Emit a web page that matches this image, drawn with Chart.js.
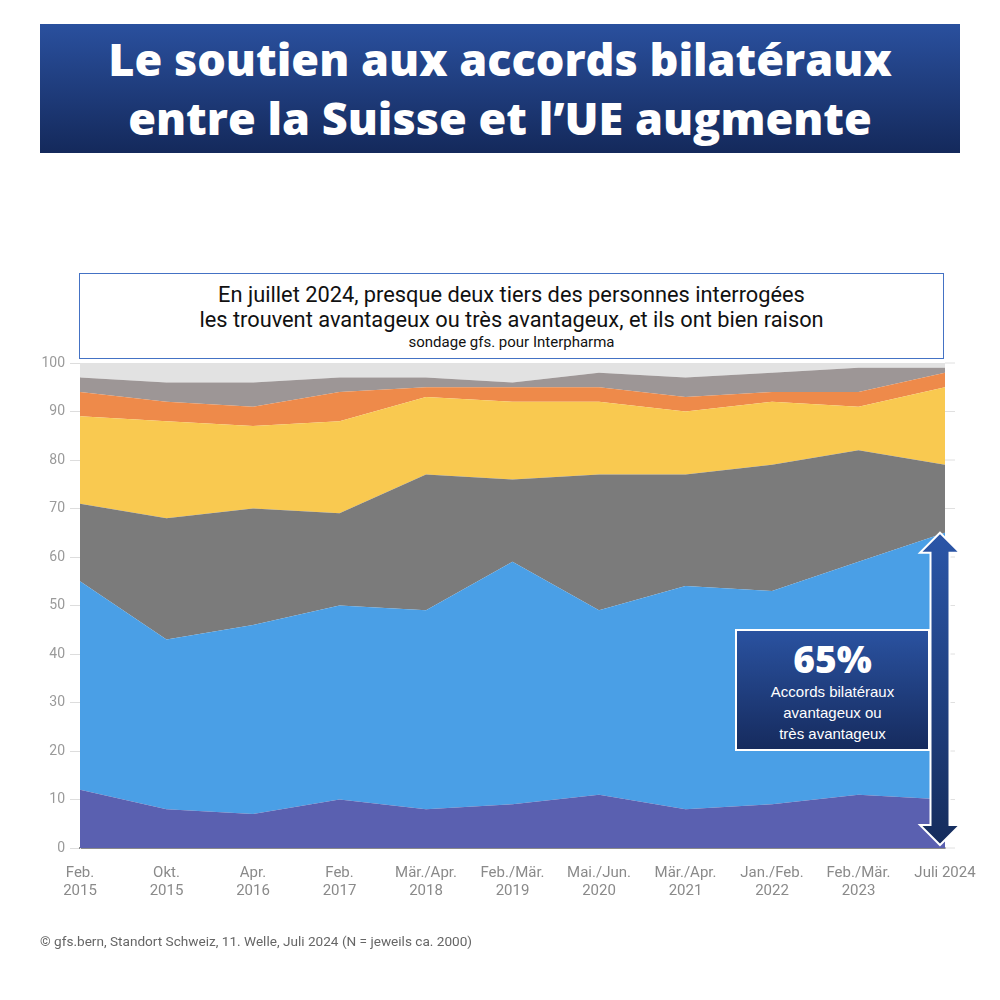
<!DOCTYPE html>
<html>
<head>
<meta charset="utf-8">
<script src="https://cdn.jsdelivr.net/npm/chart.js@4.4.1/dist/chart.umd.min.js"></script>
<style>
  html, body { margin:0; padding:0; background:#fff; }
  body { width:1000px; height:1000px; position:relative; overflow:hidden; }
  #c { position:absolute; left:0; top:0; }
  #banner { position:absolute; left:40px; top:24px; width:920px; height:129px;
    background:linear-gradient(#2a509e, #14295b); color:#fff; text-align:center;
    font-family:"Open Sans", sans-serif; font-weight:800; font-size:45px; line-height:59px;
    box-sizing:border-box; padding-top:5px; }
  #sub { position:absolute; left:79px; top:273px; width:865px; height:86px; box-sizing:border-box;
    border:1px solid #4472c4; background:#fff; text-align:center; color:#111;
    font-family:"Liberation Sans Narrow", "Roboto", sans-serif; }
  #sub .l { font-size:21.8px; line-height:25px; }
  #sub .s { font-size:15px; line-height:20px; }
  #box { position:absolute; left:735px; top:629px; width:195px; height:122px; box-sizing:border-box;
    border:2px solid #fff; background:linear-gradient(#2a52a0, #162b5e); color:#fff; text-align:center;
    font-family:"Liberation Sans", Arial, sans-serif; }
  #box .big { font-family:"Open Sans", sans-serif; font-weight:800; font-size:37px; line-height:44px; margin-top:6px; }
  #box .t { font-size:15px; line-height:21px; }
  #foot { position:absolute; left:40px; top:933px; font-family:"Roboto", sans-serif; font-size:13.6px; color:#666; }
</style>
</head>
<body>
<canvas id="c" width="1000" height="1000"></canvas>
<div id="banner">Le soutien aux accords bilatéraux<br>entre la Suisse et l’UE augmente</div>
<div id="sub"><div class="l" style="margin-top:8px">En juillet 2024, presque deux tiers des personnes interrogées</div><div class="l">les trouvent avantageux ou très avantageux, et ils ont bien raison</div><div class="s">sondage gfs. pour Interpharma</div></div>
<div id="box"><div class="big">65%</div><div class="t">Accords bilatéraux</div><div class="t">avantageux ou</div><div class="t">très avantageux</div></div>
<div id="foot">© gfs.bern, Standort Schweiz, 11. Welle, Juli 2024 (N = jeweils ca. 2000)</div>
<script>
const categories = [["Feb.","2015"],["Okt.","2015"],["Apr.","2016"],["Feb.","2017"],["Mär./Apr.","2018"],["Feb./Mär.","2019"],["Mai./Jun.","2020"],["Mär./Apr.","2021"],["Jan./Feb.","2022"],["Feb./Mär.","2023"],"Juli 2024"];
const tresAvantageux   = [12, 8, 7, 10, 8, 9, 11, 8, 9, 11, 10];
const plutotAvantageux = [43, 35, 39, 40, 41, 50, 38, 46, 44, 48, 55];
const neutre           = [16, 25, 24, 19, 28, 17, 28, 23, 26, 23, 14];
const plutotDesav      = [18, 20, 17, 19, 16, 16, 15, 13, 13, 9, 16];
const tresDesav        = [5, 4, 4, 6, 2, 3, 3, 3, 2, 3, 3];
const neSaitPas        = [3, 4, 5, 3, 2, 1, 3, 4, 4, 5, 1];
const reste            = [3, 4, 4, 3, 3, 4, 2, 3, 2, 1, 1];
const yTicks = [0,10,20,30,40,50,60,70,80,90,100];

const series = [
  {label:"très avantageux", data:tresAvantageux, color:"#5a60b0"},
  {label:"plutôt avantageux", data:plutotAvantageux, color:"#4a9fe6"},
  {label:"neutre", data:neutre, color:"#7b7b7b"},
  {label:"plutôt désavantageux", data:plutotDesav, color:"#f9c950"},
  {label:"très désavantageux", data:tresDesav, color:"#ee8a4a"},
  {label:"ne sait pas", data:neSaitPas, color:"#9d9696"},
  {label:"pas de réponse", data:reste, color:"#e2e2e2"}
];

const arrowPlugin = {
  id:'arrow',
  afterDatasetsDraw(chart){
    const ctx = chart.ctx, xs = chart.scales.x, ys = chart.scales.y;
    const last = categories.length - 1;
    ctx.save();
    ctx.strokeStyle = '#e0e0e0'; ctx.lineWidth = 1;
    yTicks.forEach(v => { const y = ys.getPixelForValue(v); ctx.beginPath(); ctx.moveTo(chart.chartArea.right, y); ctx.lineTo(chart.chartArea.right + 10, y); ctx.stroke(); });
    const cx = xs.getPixelForValue(last) - 5;
    const top = ys.getPixelForValue(tresAvantageux[last] + plutotAvantageux[last]);
    const bot = ys.getPixelForValue(0) - 3;
    const hh = 20, hw = 20, sw = 9.5;
    const g = ctx.createLinearGradient(0, top, 0, bot);
    g.addColorStop(0, '#2b56a8'); g.addColorStop(1, '#152c5c');
    ctx.beginPath();
    ctx.moveTo(cx, top);
    ctx.lineTo(cx + hw, top + hh);
    ctx.lineTo(cx + sw, top + hh);
    ctx.lineTo(cx + sw, bot - hh);
    ctx.lineTo(cx + hw, bot - hh);
    ctx.lineTo(cx, bot);
    ctx.lineTo(cx - hw, bot - hh);
    ctx.lineTo(cx - sw, bot - hh);
    ctx.lineTo(cx - sw, top + hh);
    ctx.lineTo(cx - hw, top + hh);
    ctx.closePath();
    ctx.fillStyle = g; ctx.fill();
    ctx.strokeStyle = '#fff'; ctx.lineWidth = 2; ctx.stroke();
    ctx.restore();
  }
};

new Chart(document.getElementById('c'), {
  type:'line',
  data:{
    labels:categories,
    datasets:series.map((s,i) => ({
      label:s.label, data:s.data, backgroundColor:s.color, borderColor:s.color,
      borderWidth:0, pointRadius:0, tension:0, fill: i === 0 ? 'origin' : '-1'
    }))
  },
  options:{
    responsive:false, animation:false,
    layout:{padding:{left:38, right:55, top:363, bottom:92}},
    plugins:{legend:{display:false}, tooltip:{enabled:false}},
    scales:{
      x:{
        offset:false,
        grid:{display:false},
        border:{display:true, color:'#8a8a8a', width:2},
        ticks:{color:'#8a8a8a', font:{family:'Roboto', size:15}, maxRotation:0, autoSkip:false, padding:8},
        afterFit(s){ s.height = 60; }
      },
      y:{
        stacked:true, min:0, max:100,
        afterBuildTicks(s){ s.ticks = yTicks.map(v => ({value:v})); },
        grid:{display:true, drawOnChartArea:false, drawTicks:true, tickLength:10, color:'#dddddd'},
        border:{display:true, color:'#e4e4e4'},
        ticks:{color:'#9a9a9a', font:{family:'Roboto', size:14}, padding:5},
        afterFit(s){ s.width = 42; }
      }
    }
  },
  plugins:[arrowPlugin]
});
</script>
</body>
</html>
